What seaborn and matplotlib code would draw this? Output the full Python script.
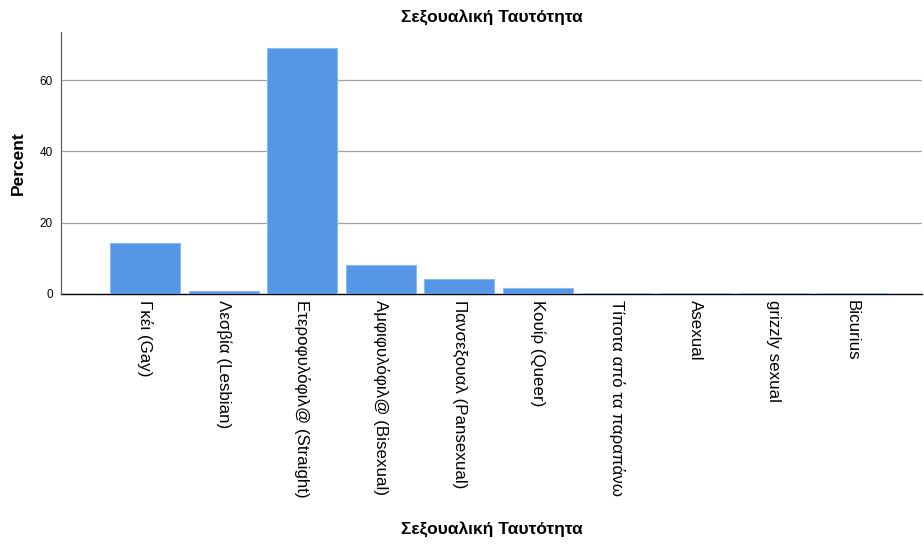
import numpy as np
import pandas as pd
from matplotlib import pyplot as plt
import seaborn as sb

sb.set_style('white')
plt.rcParams['font.family'] = ['Liberation Sans', 'DejaVu Sans']
plt.rcParams['text.color'] = 'black'
plt.rcParams['axes.labelcolor'] = 'black'
plt.rcParams['xtick.color'] = 'black'
plt.rcParams['ytick.color'] = 'black'

categories = ['Γκέι (Gay)', 'Λεσβία (Lesbian)', 'Ετεροφυλόφιλ@ (Straight)',
              'Αμφιφυλόφιλ@ (Bisexual)', 'Πανσεξουαλ (Pansexual)', 'Κουίρ (Queer)',
              'Τίποτα από τα παραπάνω', 'Asexual', 'grizzly sexual', 'Bicurius']
percent = [14.3, 0.9, 69.0, 8.1, 4.2, 1.7, 0.3, 0.3, 0.3, 0.3]
yticks = [0, 20, 40, 60]

df = pd.DataFrame({'cat': categories, 'pct': percent})

fig = plt.figure(figsize=(9.24, 5.44), dpi=100)
ax = fig.add_axes([0.066, 0.4596, 0.932, 0.4816])

sb.barplot(x='cat', y='pct', data=df, ax=ax, color='#5596e6', saturation=1,
           width=0.89, edgecolor='#8cb8ee', linewidth=0.8, zorder=3)

ax.set_xlim(-1.07, 9.89)
ax.set_ylim(0, 73.5)
ax.set_yticks(yticks)
for y in yticks[1:]:
    ax.axhline(y, color='#a0a0a0', linewidth=0.9, zorder=1)

ax.set_xticks(range(len(categories)))
ax.set_xticklabels(categories, rotation=270, fontsize=12.2, ha='center', va='top')
ax.tick_params(axis='y', labelsize=8.5, length=0, pad=6)
ax.tick_params(axis='x', length=0, pad=4)

for s in ['top', 'right']:
    ax.spines[s].set_visible(False)
ax.spines['left'].set_color('#555555')
ax.spines['bottom'].set_color('black')
ax.spines['bottom'].set_linewidth(1.0)
ax.spines['bottom'].set_zorder(2)

ax.set_title('Σεξουαλική Ταυτότητα', fontsize=12.5, fontweight='bold', pad=7)
ax.set_ylabel('Percent', fontsize=12.5, fontweight='bold')
ax.yaxis.set_label_coords(-0.041, 0.5)
ax.set_xlabel('Σεξουαλική Ταυτότητα', fontsize=12.5, fontweight='bold')
ax.xaxis.set_label_coords(0.5, -0.87)

plt.savefig('out.png', dpi=100)
